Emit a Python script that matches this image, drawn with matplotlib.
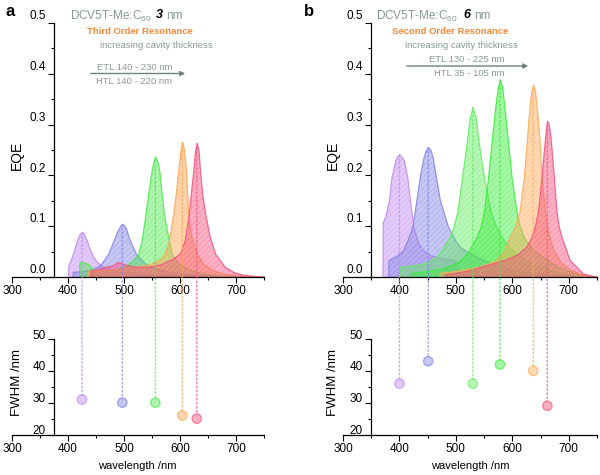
import matplotlib
matplotlib.use("Agg")
import matplotlib.pyplot as plt
from matplotlib.patches import ConnectionPatch
from matplotlib.ticker import FormatStrFormatter
from matplotlib.transforms import ScaledTranslation
from matplotlib.colors import to_rgba

plt.rcParams['font.family'] = ['Liberation Sans', 'DejaVu Sans']
plt.rcParams['mathtext.fontset'] = 'custom'
plt.rcParams['mathtext.rm'] = 'Liberation Sans'
plt.rcParams['hatch.linewidth'] = 0.5

# ---- panel a: third order resonance (3 nm) ----
a_purple_nm = [400, 400.5, 405, 410, 415, 420, 423, 425, 427, 430, 435, 440, 445, 450, 460, 470, 485, 500, 530, 570, 620, 680, 750]
a_purple_eqe = [0, 0.022, 0.034, 0.05, 0.068, 0.083, 0.087, 0.088, 0.087, 0.081, 0.067, 0.052, 0.04, 0.032, 0.022, 0.016, 0.012, 0.009, 0.006, 0.004, 0.002, 0.001, 0]
a_blue_nm = [408, 408.5, 430, 445, 455, 460, 472, 484, 490, 494, 497, 500, 504, 508, 521, 537, 555, 580, 620, 680, 750]
a_blue_eqe = [0, 0.01, 0.012, 0.016, 0.022, 0.027, 0.046, 0.079, 0.095, 0.102, 0.104, 0.102, 0.094, 0.079, 0.046, 0.027, 0.017, 0.01, 0.005, 0.001, 0]
a_green_nm = [420, 420.5, 430, 438, 445, 460, 480, 500, 515, 525.6, 532, 537.5, 545, 549.4, 553, 556, 559, 563, 566, 572, 585, 597, 615, 640, 680, 750]
a_green_eqe = [0, 0.03, 0.028, 0.024, 0.014, 0.012, 0.014, 0.02, 0.032, 0.046, 0.075, 0.118, 0.177, 0.21, 0.23, 0.236, 0.23, 0.21, 0.177, 0.118, 0.046, 0.027, 0.015, 0.007, 0.002, 0]
a_orange_nm = [435, 435.5, 470, 510, 546, 565, 573, 580, 587, 592, 597, 601, 604, 607, 610.7, 613, 615, 620, 630, 640, 655, 675, 700, 750]
a_orange_eqe = [0, 0.012, 0.014, 0.018, 0.025, 0.035, 0.046, 0.07, 0.118, 0.16, 0.21, 0.25, 0.265, 0.252, 0.21, 0.16, 0.118, 0.08, 0.046, 0.028, 0.015, 0.007, 0.003, 0]
a_pink_nm = [440, 440.5, 460, 480, 490, 500, 520, 545, 565, 585, 600, 608, 615, 620, 623.8, 627, 630, 633, 635.7, 640, 646, 653, 662.5, 680, 695, 715, 750]
a_pink_eqe = [0, 0.012, 0.018, 0.023, 0.03, 0.025, 0.02, 0.02, 0.025, 0.035, 0.046, 0.07, 0.118, 0.17, 0.21, 0.25, 0.263, 0.25, 0.21, 0.16, 0.118, 0.08, 0.046, 0.02, 0.01, 0.004, 0]

a_peak_nm = [425, 497, 556, 604, 630]
a_peak_eqe = [0.088, 0.104, 0.236, 0.265, 0.263]
a_fwhm = [31, 30, 30, 26, 25]
a_colors = ['#c08af0', '#8484e6', '#4ee84e', '#ffa552', '#f5527f']

# ---- panel b: second order resonance (6 nm) ----
b_purple_nm = [370, 370.5, 375, 381.4, 386, 392.6, 396, 400, 404, 408, 413.8, 418.6, 424.5, 432, 440, 455, 475, 499, 501, 540, 600, 680, 750]
b_purple_eqe = [0, 0.108, 0.12, 0.151, 0.197, 0.229, 0.238, 0.241, 0.236, 0.229, 0.197, 0.151, 0.099, 0.07, 0.055, 0.043, 0.037, 0.033, 0.015, 0.01, 0.005, 0.001, 0]
b_blue_nm = [380, 380.5, 395, 406.7, 415, 423, 430, 436, 443, 447, 451, 455, 459, 464.6, 471.7, 486, 500, 510, 524.8, 545, 570, 610, 660, 710, 750]
b_blue_eqe = [0, 0.033, 0.042, 0.053, 0.075, 0.099, 0.151, 0.197, 0.237, 0.25, 0.255, 0.25, 0.235, 0.197, 0.151, 0.099, 0.07, 0.057, 0.047, 0.035, 0.024, 0.012, 0.005, 0.001, 0]
b_green1_nm = [400, 400.5, 420, 440, 455, 466, 478, 489, 496, 503, 511, 519, 524, 529.5, 535, 540.7, 549.6, 561, 571, 581, 595, 615, 640, 670, 710, 750]
b_green1_eqe = [0, 0.02, 0.022, 0.026, 0.033, 0.04, 0.058, 0.079, 0.1, 0.131, 0.197, 0.262, 0.31, 0.334, 0.315, 0.262, 0.197, 0.131, 0.1, 0.079, 0.058, 0.038, 0.024, 0.012, 0.004, 0]
b_green2_nm = [420, 420.5, 450, 480, 505, 522, 536.6, 544, 550, 557, 563, 569, 574, 578, 582, 586.7, 592.6, 598.6, 607, 613, 620, 635, 654, 680, 710, 750]
b_green2_eqe = [0, 0.008, 0.012, 0.018, 0.03, 0.05, 0.079, 0.1, 0.131, 0.197, 0.262, 0.327, 0.372, 0.388, 0.375, 0.327, 0.262, 0.197, 0.131, 0.1, 0.079, 0.055, 0.04, 0.02, 0.008, 0]
b_orange_nm = [470, 470.5, 500, 540, 570, 585, 595.6, 605, 613, 620.4, 625.3, 629.8, 633.5, 636.8, 640, 643.9, 648.7, 652, 657.5, 663, 672, 685, 700, 720, 750]
b_orange_eqe = [0, 0.008, 0.012, 0.02, 0.032, 0.05, 0.079, 0.1, 0.131, 0.197, 0.262, 0.327, 0.365, 0.378, 0.368, 0.327, 0.262, 0.197, 0.131, 0.09, 0.055, 0.03, 0.016, 0.006, 0]
b_pink_nm = [480, 480.5, 520, 560, 590, 610, 625, 634, 640, 645.7, 651.7, 657, 660, 662.3, 665, 668.7, 673.5, 678, 682, 687, 701.7, 725, 750]
b_pink_eqe = [0, 0.005, 0.012, 0.025, 0.035, 0.045, 0.06, 0.079, 0.1, 0.131, 0.197, 0.262, 0.295, 0.306, 0.298, 0.262, 0.197, 0.131, 0.1, 0.079, 0.033, 0.007, 0]

b_peak_nm = [400, 451, 530, 578, 637, 662]
b_peak_eqe = [0.241, 0.255, 0.334, 0.388, 0.378, 0.306]
b_fwhm = [36, 43, 36, 42, 40, 29]
b_colors = ['#c08af0', '#8484e6', '#62ec62', '#3cec3c', '#ffaa58', '#f5527f']

a_curves = [(a_purple_nm, a_purple_eqe), (a_blue_nm, a_blue_eqe), (a_green_nm, a_green_eqe),
            (a_orange_nm, a_orange_eqe), (a_pink_nm, a_pink_eqe)]
b_curves = [(b_purple_nm, b_purple_eqe), (b_blue_nm, b_blue_eqe), (b_green1_nm, b_green1_eqe),
            (b_green2_nm, b_green2_eqe), (b_orange_nm, b_orange_eqe), (b_pink_nm, b_pink_eqe)]

W, H = 600, 475
fig = plt.figure(figsize=(6, 4.75), dpi=100)


def rect(x0, x1, ytop, ybot):
    return [x0 / W, 1 - ybot / H, (x1 - x0) / W, (ybot - ytop) / H]


def px(x, y):
    return x / W, 1 - y / H


def style(ax, spine_x, ylim, ymaj, ymin, fmt, shift):
    ax.set_xlim(300, 750)
    ax.set_ylim(*ylim)
    ax.patch.set_alpha(0)
    ax.spines['top'].set_visible(False)
    ax.spines['right'].set_visible(False)
    ax.spines['left'].set_position(('data', spine_x))
    for s in ax.spines.values():
        s.set_linewidth(0.9)
    ax.set_xticks(range(300, 701, 100))
    ax.set_xticks(range(350, 751, 100), minor=True)
    ax.set_yticks(ymaj)
    ax.set_yticks(ymin, minor=True)
    ax.yaxis.set_major_formatter(FormatStrFormatter(fmt))
    ax.tick_params(direction='out', length=4, width=0.8, labelsize=8.5, pad=2)
    ax.tick_params(which='minor', direction='out', length=2.5, width=0.8)
    for lab in ax.get_yticklabels():
        lab.set_transform(lab.get_transform() + ScaledTranslation(0, shift / 72, fig.dpi_scale_trans))


ax_at = fig.add_axes(rect(12, 264, 23, 277))
ax_bt = fig.add_axes(rect(343, 597, 23, 277))
ax_ab = fig.add_axes(rect(12, 264, 339, 434.5))
ax_bb = fig.add_axes(rect(343, 597, 339, 434.5))

top_major = [0.0, 0.1, 0.2, 0.3, 0.4, 0.5]
top_minor = [0.05, 0.15, 0.25, 0.35, 0.45]
bot_major = [20, 30, 40, 50]
bot_minor = [25, 35, 45]
style(ax_at, 375, (0, 0.5), top_major, top_minor, '%.1f', 6)
style(ax_bt, 350, (0, 0.5), top_major, top_minor, '%.1f', 6)
style(ax_ab, 375, (20, 50), bot_major, bot_minor, '%d', 3.5)
style(ax_bb, 350, (20, 50), bot_major, bot_minor, '%d', 3.5)

for ax, curves, colors in [(ax_at, a_curves, a_colors), (ax_bt, b_curves, b_colors)]:
    for (x, y), c in zip(curves, colors):
        ax.fill_between(x, y, 0, facecolor=to_rgba(c, 0.45), edgecolor=to_rgba(c, 0.85), linewidth=0.9)
        ax.fill_between(x, y, 0, facecolor='none', edgecolor=to_rgba(c, 0.35), hatch='//////', linewidth=0)

for ax_t, ax_b, nm, eqe, fw, colors in [(ax_at, ax_ab, a_peak_nm, a_peak_eqe, a_fwhm, a_colors),
                                         (ax_bt, ax_bb, b_peak_nm, b_peak_eqe, b_fwhm, b_colors)]:
    for x, e, f, c in zip(nm, eqe, fw, colors):
        con = ConnectionPatch(xyA=(x, e), coordsA=ax_t.transData, xyB=(x, f), coordsB=ax_b.transData,
                              color=to_rgba(c, 0.7), linestyle=':', linewidth=1.1, shrinkB=3)
        fig.add_artist(con)
    ax_b.scatter(nm, fw, s=45, c=[to_rgba(c, 0.45) for c in colors],
                 edgecolors=[to_rgba(c, 0.65) for c in colors], linewidths=1, zorder=5)

# axis labels
for xl in (17, 333):
    fig.text(*px(xl, 155), 'EQE', rotation=90, ha='center', va='center', fontsize=10)
    fig.text(*px(xl - 0.5, 382), 'FWHM /nm', rotation=90, ha='center', va='center', fontsize=9.5)
fig.text(*px(137.5, 466), 'wavelength /nm', ha='center', va='center', fontsize=8)
fig.text(*px(470, 466), 'wavelength /nm', ha='center', va='center', fontsize=8)

# panel letters
fig.text(*px(10, 11), 'a', ha='center', va='center', fontsize=12, fontweight='bold')
fig.text(*px(309, 11), 'b', ha='center', va='center', fontsize=12, fontweight='bold')

grey = '#8a9898'
orange = '#f5893a'
arrow_c = '#6e8080'

# panel a annotations
fig.text(*px(152, 16), 'DCV5T-Me:C$_{60}$', ha='right', va='center', fontsize=8.5, color=grey)
fig.text(*px(159.5, 15.5), '3', ha='center', va='center', fontsize=9, color='black',
         fontweight='bold', fontstyle='italic')
fig.text(*px(166, 16), 'nm', ha='left', va='center', fontsize=8.5, color=grey)
fig.text(*px(140, 32), 'Third Order Resonance', ha='center', va='center', fontsize=6.8,
         color=orange, fontweight='bold')
fig.text(*px(156, 45), 'increasing cavity thickness', ha='center', va='center', fontsize=6.8, color=grey)
fig.text(*px(134.5, 68), 'ETL 140 - 230 nm', ha='center', va='center', fontsize=6.8, color=grey)
fig.text(*px(134.5, 81), 'HTL 140 - 220 nm', ha='center', va='center', fontsize=6.8, color=grey)
fig.add_artist(plt.Annotation('', xy=px(188, 73.5), xytext=px(88, 73.5), xycoords='figure fraction',
                              arrowprops=dict(arrowstyle='-|>', color=arrow_c, lw=1, mutation_scale=7)))

# panel b annotations
fig.text(*px(458, 16), 'DCV5T-Me:C$_{60}$', ha='right', va='center', fontsize=8.5, color=grey)
fig.text(*px(466.5, 15.5), '6', ha='center', va='center', fontsize=9, color='black',
         fontweight='bold', fontstyle='italic')
fig.text(*px(474, 16), 'nm', ha='left', va='center', fontsize=8.5, color=grey)
fig.text(*px(450, 32), 'Second Order Resonance', ha='center', va='center', fontsize=6.8,
         color=orange, fontweight='bold')
fig.text(*px(461, 46), 'increasing cavity thickness', ha='center', va='center', fontsize=6.8, color=grey)
fig.text(*px(467, 60), 'ETL 130 - 225 nm', ha='center', va='center', fontsize=6.8, color=grey)
fig.text(*px(469, 73), 'HTL 35 - 105 nm', ha='center', va='center', fontsize=6.8, color=grey)
fig.add_artist(plt.Annotation('', xy=px(531, 66), xytext=px(404, 66), xycoords='figure fraction',
                              arrowprops=dict(arrowstyle='-|>', color=arrow_c, lw=1, mutation_scale=7)))

fig.savefig('out.png', dpi=100)
